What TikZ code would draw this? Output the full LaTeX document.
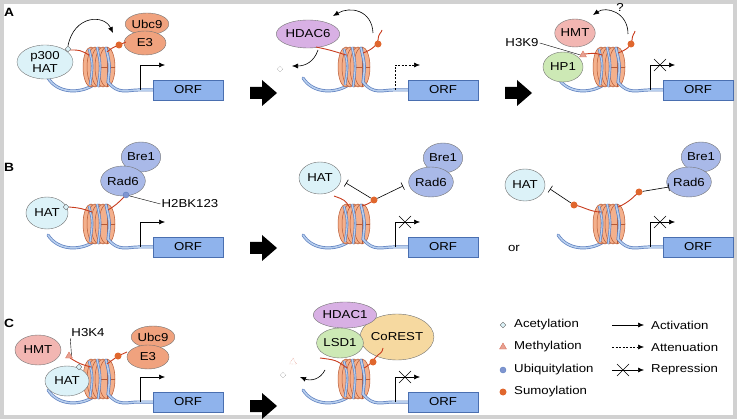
\documentclass[tikz,border=0pt]{standalone}
\usepackage{fontspec}
\setmainfont{Liberation Sans}[FakeStretch=1.15]
\usetikzlibrary{shapes.geometric,arrows.meta}
\definecolor{hatc}{HTML}{DCF2F8}
\definecolor{ubcc}{HTML}{F0A27E}
\definecolor{hdacc}{HTML}{D8B0E4}
\definecolor{hmtc}{HTML}{F2B6B2}
\definecolor{hp1c}{HTML}{CDE9B5}
\definecolor{brec}{HTML}{A9B9E8}
\definecolor{corc}{HTML}{F6D9A0}
\definecolor{orfc}{HTML}{8FB3EC}
\definecolor{orfe}{HTML}{4A6FB0}
\definecolor{nucf}{HTML}{F4B08C}
\definecolor{nuce}{HTML}{B85A34}
\definecolor{dnae}{HTML}{5D7FBF}
\definecolor{dnaf}{HTML}{B8CFEE}
\definecolor{tailc}{HTML}{C83C1E}
\definecolor{sumoc}{HTML}{E0672E}
\definecolor{ubqc}{HTML}{7F95D0}
\definecolor{metc}{HTML}{E8A090}
\newcommand\fs{\fontsize{11.5}{13}\selectfont}
\tikzset{
 prot/.style={ellipse, draw=black!55, line width=0.4pt, inner sep=0pt, font=\fs, align=center},
 orf/.style={draw=orfe, fill=orfc, minimum width=70pt, minimum height=20pt, inner sep=0pt, font=\fs},
 dna/.style={draw=dnae, line width=3pt, line cap=round, postaction={draw=dnaf, line width=1.6pt}},
 wrap/.style={draw=dnae, line width=2.4pt, postaction={draw=dnaf, line width=1.2pt}},
 tail/.style={draw=tailc, line width=0.9pt},
 act/.style={-{Latex[length=6pt,width=5pt]}, line width=0.6pt},
 inh/.style={-{Bar[width=8pt]}, line width=0.6pt},
 acet/.style={diamond, draw=black!60, fill=hatc, minimum size=6pt, inner sep=0pt, line width=0.4pt},
 meth/.style={regular polygon, regular polygon sides=3, draw=tailc!70, fill=metc, minimum size=8pt, inner sep=0pt, line width=0.4pt},
 sumo/.style={circle, fill=sumoc, minimum size=7pt, inner sep=0pt},
 ubq/.style={circle, fill=ubqc, draw=dnae, minimum size=6pt, inner sep=0pt},
 lbl/.style={font=\fs, inner sep=1pt},
 panel/.style={font=\fontsize{12}{14}\selectfont\bfseries, inner sep=0pt}
}
% gene: x0 = ORF left, ym = ORF middle, #3 = 0 act, 1 dashed, 2 repressed, #4 name
\newcommand\gene[4]{%
 \begin{scope}[shift={(#1,#2)}]
 \draw[dna] (-105,-12) .. controls (-95,4) and (-72,4) .. (-58,-6);
 \foreach \dx in {-9,-5,-1,3,7}
   \filldraw[fill=nucf, draw=nuce, line width=0.5pt] (-53+\dx,-23) ellipse [x radius=8pt, y radius=20pt];
 \draw[nuce, line width=0.4pt] (-46,-43) -- (-46,-3) (-54,-23) -- (-38,-23);
 \draw[wrap] (-64,-41) .. controls (-60,-25) .. (-63,-5);
 \draw[wrap] (-56,-43) .. controls (-52,-25) .. (-55,-3);
 \draw[dna] (-47,-42) .. controls (-43,-25) .. (-45,-8) .. controls (-35,5) and (-25,0) .. (-15,0) -- (0,0);
 \node[orf] (#4) at (35,0) {ORF};
 \ifcase#3
   \draw[act] (-13,0) -- (-13,-25) -- (12,-25);
 \or
   \draw[act, dash pattern=on 2pt off 1.5pt] (-13,0) -- (-13,-25) -- (12,-25);
 \or
   \draw[act] (-13,0) -- (-13,-25) -- (12,-25);
   \draw[line width=0.5pt] (-9,-31) -- (3,-19) (-9,-19) -- (3,-31);
 \fi
 \end{scope}}
\newcommand\bigarrow[2]{\fill (#1,#2-6) -- (#1+12,#2-6) -- (#1+12,#2-13) -- (#1+27,#2) -- (#1+12,#2+13) -- (#1+12,#2+6) -- (#1,#2+6) -- cycle;}
\begin{document}
\begin{tikzpicture}[x=1pt,y=-1pt]
\useasboundingbox (0,0) rectangle (738,419);
\draw[black!18, line width=4pt] (2,2) rectangle (735,417);
% ---------- Row A ----------
\node[panel] (lA) at (9,12) {A};
\gene{153}{90}{0}{orfA1}
\draw[tail] (89,55) .. controls (80,50) .. (70,50);
\node[acet] (acA1) at (68,49) {};
\node[prot, fill=hatc, minimum width=56pt, minimum height=34pt] (p300) at (45,62) {p300\\HAT};
\node[prot, fill=ubcc, minimum width=42pt, minimum height=22pt] (ubcA) at (147,24) {Ubc9};
\node[prot, fill=ubcc, minimum width=42pt, minimum height=24pt] (e3A) at (145,43) {E3};
\draw[tail] (107,52) .. controls (112,48) .. (119,45) -- (126,42);
\node[sumo] (suA1) at (119,45) {};
\draw[act] (acA1.north) .. controls (74,15) and (104,14) .. (113,33);
\gene{408}{90}{1}{orfA2}
\node[prot, fill=hdacc, minimum width=58pt, minimum height=28pt] (hdac6) at (308,34) {HDAC6};
\draw[tail] (346,55) .. controls (330,50) .. (316,47);
\draw[tail] (363,53) .. controls (372,50) and (378,44) .. (378,40) .. controls (378,34) and (382,32) .. (382,30);
\node[sumo] (suA2) at (378,44) {};
\draw[act] (373,33) .. controls (372,10) and (350,6) .. (333,16);
\draw[act] (318,50) .. controls (314,62) and (305,66) .. (292,66);
\node[acet, fill=white, densely dotted] (acA2) at (280,69) {};
\bigarrow{250}{93}
\gene{663}{90}{2}{orfA3}
\node[prot, fill=hmtc, minimum width=40pt, minimum height=28pt] (hmtA) at (575,33) {HMT};
\node[prot, fill=hp1c, minimum width=40pt, minimum height=30pt] (hp1) at (563,67) {HP1};
\draw[tail] (602,55) .. controls (595,53) .. (585,54);
\node[meth] (meA3) at (583,55) {};
\node[lbl] (h3k9) at (522,43) {H3K9};
\draw[line width=0.4pt] (h3k9.east) -- (meA3.west);
\draw[tail] (618,53) .. controls (626,50) and (632,46) .. (632,40) .. controls (632,35) and (635,33) .. (635,31);
\node[sumo] (suA3) at (631,44) {};
\draw[act] (628,34) .. controls (628,12) and (606,6) .. (593,15);
\node[lbl] (qm) at (620,7) {?};
\bigarrow{505}{93}
% ---------- Row B ----------
\node[panel] (lB) at (9,167) {B};
\gene{153}{247}{0}{orfB1}
\draw[tail] (92,212) .. controls (80,208) .. (69,207);
\node[prot, fill=hatc, minimum width=42pt, minimum height=32pt] (hatB1) at (47,213) {HAT};
\node[acet] (acB1) at (66,207) {};
\node[prot, fill=brec, minimum width=36pt, minimum height=30pt] (bre1) at (141,157) {Bre1};
\node[prot, fill=brec, minimum width=36pt, minimum height=30pt] (rad6) at (123,181) {Rad6};
\draw[tail] (108,210) .. controls (116,205) .. (126,195);
\node[ubq] (ubB1) at (126,195) {};
\node[lbl] (h2b) at (190,204) {H2BK123};
\draw[line width=0.4pt] (ubB1) -- (h2b.west);
\bigarrow{250}{248}
\gene{408}{247}{2}{orfB2}
\node[prot, fill=hatc, minimum width=42pt, minimum height=32pt] (hatB2) at (320,178) {HAT};
\node[prot, fill=brec, minimum width=36pt, minimum height=30pt] (bre2) at (443,158) {Bre1};
\node[prot, fill=brec, minimum width=36pt, minimum height=30pt] (rad62) at (431,182) {Rad6};
\draw[tail] (350,208) .. controls (345,200) .. (334,196);
\draw[tail] (362,206) .. controls (368,204) .. (374,200);
\node[sumo] (suB2) at (374,200) {};
\draw[inh] (suB2) -- (346,183);
\draw[inh] (suB2) -- (403,186);
\node[lbl] (or) at (514,248) {or};
\gene{663}{247}{2}{orfB3}
\node[prot, fill=hatc, minimum width=40pt, minimum height=32pt] (hatB3) at (525,185) {HAT};
\node[prot, fill=brec, minimum width=36pt, minimum height=30pt] (bre3) at (701,157) {Bre1};
\node[prot, fill=brec, minimum width=36pt, minimum height=30pt] (rad63) at (689,182) {Rad6};
\draw[tail] (601,212) .. controls (590,212) and (582,206) .. (574,205);
\node[sumo] (suB3a) at (574,205) {};
\draw[tail] (618,207) .. controls (630,202) and (634,196) .. (639,192);
\node[sumo] (suB3b) at (639,192) {};
\draw[inh] (suB3a) -- (550,189);
\draw[inh] (suB3b) -- (669,187);
% ---------- Row C ----------
\node[panel] (lC) at (9,323) {C};
\gene{153}{402}{0}{orfC1}
\draw[tail] (91,367) .. controls (80,364) .. (70,358);
\node[prot, fill=hmtc, minimum width=46pt, minimum height=30pt] (hmtC) at (38,350) {HMT};
\node[prot, fill=hatc, minimum width=44pt, minimum height=30pt] (hatC) at (67,381) {HAT};
\node[meth] (meC1) at (69,356) {};
\node[acet] (acC1) at (79,367) {};
\node[lbl] (h3k4) at (88,333) {H3K4};
\draw[line width=0.4pt] (h3k4.south west) -- (meC1.east);
\node[prot, fill=ubcc, minimum width=40pt, minimum height=22pt] (ubcC) at (153,337) {Ubc9};
\node[prot, fill=ubcc, minimum width=42pt, minimum height=24pt] (e3C) at (148,357) {E3};
\draw[tail] (107,364) .. controls (112,360) .. (118,356) -- (127,352);
\node[sumo] (suC1) at (118,356) {};
\bigarrow{250}{406}
\gene{408}{402}{2}{orfC2}
\node[prot, fill=corc, minimum width=66pt, minimum height=46pt] (corest) at (397,337) {CoREST};
\node[prot, fill=hdacc, minimum width=54pt, minimum height=26pt] (hdac1) at (345,315) {HDAC1};
\node[prot, fill=hp1c, minimum width=44pt, minimum height=30pt] (lsd1) at (340,343) {LSD1};
\draw[tail] (347,368) .. controls (336,360) .. (320,358);
\draw[tail] (364,368) .. controls (372,364) and (374,358) .. (378,355) .. controls (382,352) .. (383,348);
\node[sumo] (suC2) at (373,362) {};
\draw[act] (325,370) .. controls (320,380) and (310,381) .. (300,377);
\node[meth, fill=white, densely dotted] (meC2) at (293,362) {};
\node[acet, fill=white, densely dotted] (acC2) at (283,375) {};
% ---------- Legend ----------
\node[acet] (lg1) at (503,325) {};
\node[lbl, anchor=west] (lt1) at (513,325) {Acetylation};
\node[meth] (lg2) at (503,347) {};
\node[lbl, anchor=west] (lt2) at (513,347) {Methylation};
\node[ubq] (lg3) at (503,370) {};
\node[lbl, anchor=west] (lt3) at (513,370) {Ubiquitylation};
\node[sumo] (lg4) at (503,392) {};
\node[lbl, anchor=west] (lt4) at (513,392) {Sumoylation};
\coordinate (la1) at (612,325); \coordinate (la2) at (644,325);
\draw[act] (la1) -- (la2);
\node[lbl, anchor=west] (lt5) at (650,325) {Activation};
\coordinate (lb1) at (612,347); \coordinate (lb2) at (644,347);
\draw[act, dash pattern=on 2pt off 1.5pt] (lb1) -- (lb2);
\node[lbl, anchor=west] (lt6) at (650,347) {Attenuation};
\coordinate (lc1) at (612,370); \coordinate (lc2) at (644,370);
\draw[act] (lc1) -- (lc2);
\draw[line width=0.5pt] (617,364) -- (629,376) (617,376) -- (629,364);
\node[lbl, anchor=west] (lt7) at (650,370) {Repression};
\end{tikzpicture}
\end{document}
